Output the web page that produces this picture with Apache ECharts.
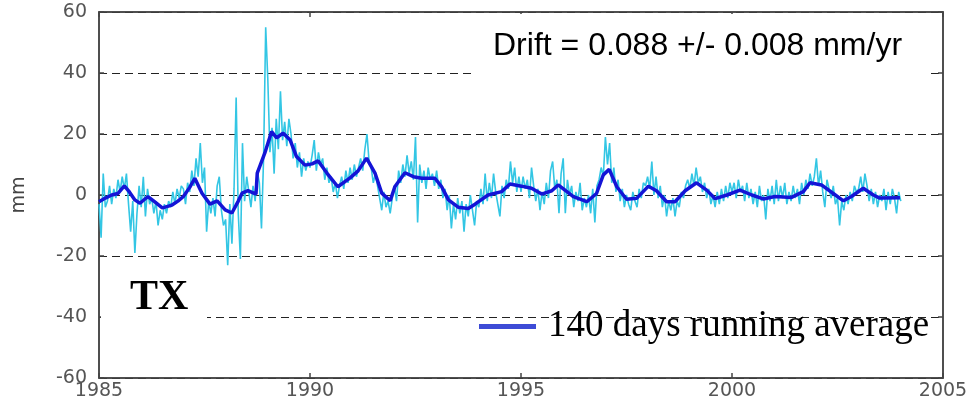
<!DOCTYPE html>
<html>
<head>
<meta charset="utf-8">
<script src="https://cdn.jsdelivr.net/npm/echarts@6/dist/echarts.min.js"></script>
<style>
  html, body { margin: 0; padding: 0; background: #fff; }
  #chart { width: 977px; height: 401px; }
</style>
</head>
<body>
<div id="chart"></div>
<script>
// raw series, one value every 0.05 yr from 1985.0
const rawStart = 1985
const rawStep = 0.05
const rawValues = [
  // 1985
  -3, -14, 7, -4, -2, 3, -3, 2, -1, 5, 1, 6, 2, 7, -3, -12, -2, -19, -6, 3,
  // 1986
  -4, 6, -7, 2, -3, -1, -6, -2, -10, -5, -8, -3, -6, -2, -4, 1, -3, 2, -1, 3,
  // 1987
  2, -3, 4, 1, 8, 3, 12, 6, 17, 4, 9, -12, -2, -6, -1, -7, 3, 6, -5, -10,
  // 1988
  -8, -23, -3, -16, 2, 32, -6, -21, 17, -2, 6, 1, -4, 3, -2, 8, 4, -11, 12, 55,
  // 1989
  38, 14, 22, 7, 25, 15, 34, 18, 24, 16, 25, 20, 12, 17, 9, 14, 6, 12, 8, 11,
  // 1990
  9, 13, 18, 8, 14, 10, 12, 5, 9, 4, 6, 1, 4, -1, 3, 6, 2, 8, 4, 9,
  // 1991
  5, 10, 6, 9, 12, 8, 15, 20, 11, 9, 4, 7, 3, -1, -5, 1, -4, -2, -6, -1,
  // 1992
  3, -2, 8, 4, 10, 6, 13, 7, 11, 5, 19, -9, 10, 4, 8, 2, 9, 5, 7, 3,
  // 1993
  8, 2, 5, -1, 2, -5, 0, -11, -3, -8, -1, -6, -2, -12, -3, -7, 0, -5, -10, -2,
  // 1994
  -4, 2, -3, 7, -2, 4, -1, 7, 1, -3, -7, 3, -1, 5, 2, 11, 4, 9, 1, 6,
  // 1995
  1, 6, 2, 5, -1, 9, 3, -2, 2, -5, 1, -3, 4, -1, 8, 11, 2, 5, -6, 7,
  // 1996
  12, -6, 5, 0, 3, -4, 1, -2, 4, -5, -1, -4, 0, -6, 2, -9, 3, 5, 9, 6,
  // 1997
  19, 10, 17, 4, 9, 1, 5, -2, 2, -4, 0, -3, -5, 1, -2, -4, 2, -1, 4, 3,
  // 1998
  6, 2, 11, 0, 6, -1, 3, -4, 0, -7, -2, -5, -1, -7, -2, -4, 1, -1, 3, 5,
  // 1999
  2, 7, 3, 9, 4, 6, 1, 4, -1, 2, -3, 0, -4, 1, -3, 2, -2, 3, -1, 4,
  // 2000
  1, 4, -1, 5, 1, 3, -2, 4, -1, 2, -3, 1, -4, 3, -2, 0, -8, 2, -2, 3,
  // 2001
  -3, 5, -2, 3, -1, 4, -3, 1, -2, 3, -1, 2, -3, 4, 0, 5, 2, 7, 3, 6,
  // 2002
  12, 3, 8, 1, -4, 5, 2, -1, 3, -3, -1, -10, -2, -5, 0, -3, 1, -2, 3, 1,
  // 2003
  2, 6, 1, 7, 3, -2, 2, -3, 1, -4, 0, -2, 2, -5, 1, -3, 2, -1, -6, 1,
  // 2004
  -2
]

// 140 days running average
const avgYears = [
  1985.0, 1985.15, 1985.3, 1985.45, 1985.6, 1985.72, 1985.85, 1985.97,
  1986.16, 1986.3, 1986.5, 1986.73, 1986.87, 1987.0, 1987.15, 1987.27,
  1987.44, 1987.63, 1987.8, 1987.99, 1988.15, 1988.3, 1988.39, 1988.53,
  1988.72, 1988.75, 1988.93, 1989.09, 1989.21, 1989.36, 1989.53, 1989.68,
  1989.88, 1990.05, 1990.19, 1990.4, 1990.66, 1990.95, 1991.14, 1991.34,
  1991.54, 1991.7, 1991.9, 1992.01, 1992.25, 1992.45, 1992.65, 1992.96,
  1993.12, 1993.28, 1993.51, 1993.75, 1993.91, 1994.22, 1994.54, 1994.74,
  1995.01, 1995.25, 1995.49, 1995.73, 1995.88, 1996.05, 1996.24, 1996.56,
  1996.79, 1996.95, 1997.09, 1997.27, 1997.5, 1997.74, 1998.02, 1998.21,
  1998.45, 1998.65, 1998.89, 1999.16, 1999.4, 1999.6, 1999.88, 2000.19,
  2000.47, 2000.74, 2001.02, 2001.41, 2001.69, 2001.85, 2002.12, 2002.4,
  2002.64, 2002.83, 2003.11, 2003.35, 2003.5, 2003.98
]
const avgValues = [
  -2.2, -1, 0, 0.5, 3, 1, -1.6, -2.7,
  -0.5, -2, -4.2, -3.3, -2, -0.5, 2.5, 5.5,
  0.6, -3, -1.9, -4.9, -5.9, -2, 0.6, 1.4,
  0.3, 7.2, 13.8, 20.8, 18.7, 20.3, 18, 12.6,
  9.8, 10.2, 11.2, 7.2, 2.7, 5.6, 7.9, 12.1,
  7.2, 0.6, -1.9, 2.7, 7.3, 6, 5.5, 5.5,
  2.7, -1.6, -4, -4.4, -3, 0, 1.1, 3.6,
  2.9, 2.2, 0.3, 1.4, 3.3, 1.5, -0.5, -2.2,
  0.5, 6.6, 8.4, 2.7, -1.4, -1.1, 2.9, 1.4,
  -2.2, -2.2, 1.4, 4.0, 1.6, -1.2, 0, 1.6,
  0, -1.3, -0.5, -0.8, 1.1, 4.0, 3.3, 0.5,
  -1.9, -0.5, 2.2, 0, -1, -0.9
]

const yearTicks = [1985, 1990, 1995, 2000, 2005]
const mmTicks = [-60, -40, -20, 0, 20, 40, 60]

const rawData = rawValues.map((v, i) => [rawStart + i * rawStep, v])
const avgData = avgYears.map((y, i) => [y, avgValues[i]])

const frame = { color: '#444', width: 1.5 }
const tickFont = { color: '#555', fontSize: 19, fontFamily: 'DejaVu Sans' }

const option = {
  animation: false,
  backgroundColor: '#fff',
  grid: { left: 99, right: 34, top: 12, bottom: 23, show: true, borderColor: '#444', borderWidth: 1.5 },
  xAxis: [
    {
      type: 'value',
      min: yearTicks[0],
      max: yearTicks[yearTicks.length - 1],
      interval: 5,
      axisLine: { show: true, onZero: false, lineStyle: frame },
      axisTick: { show: true, inside: true, length: 5, lineStyle: frame },
      axisLabel: Object.assign({ margin: 4, formatter: v => String(v) }, tickFont),
      splitLine: { show: false }
    },
    {
      type: 'value',
      position: 'top',
      min: yearTicks[0],
      max: yearTicks[yearTicks.length - 1],
      interval: 5,
      axisLine: { show: true, onZero: false, lineStyle: frame },
      axisTick: { show: true, inside: true, length: 5, lineStyle: frame },
      axisLabel: { show: false },
      splitLine: { show: false }
    }
  ],
  yAxis: [
    {
      type: 'value',
      min: mmTicks[0],
      max: mmTicks[mmTicks.length - 1],
      interval: 20,
      name: 'mm',
      nameLocation: 'middle',
      nameGap: 70,
      nameTextStyle: { color: '#444', fontSize: 19, fontFamily: 'DejaVu Sans' },
      axisLine: { show: true, onZero: false, lineStyle: frame },
      axisTick: { show: true, inside: true, length: 5, lineStyle: frame },
      axisLabel: Object.assign({ margin: 12 }, tickFont),
      splitLine: { show: true, lineStyle: { color: '#222', width: 1, type: [8, 5] } }
    },
    {
      type: 'value',
      position: 'right',
      min: mmTicks[0],
      max: mmTicks[mmTicks.length - 1],
      interval: 20,
      axisLine: { show: true, onZero: false, lineStyle: frame },
      axisTick: { show: true, inside: true, length: 5, lineStyle: frame },
      axisLabel: { show: false },
      splitLine: { show: false }
    }
  ],
  legend: {
    left: 479,
    top: 308,
    padding: 0,
    icon: 'rect',
    itemWidth: 57,
    itemHeight: 5,
    selectedMode: false,
    data: [{ name: '140 days running average', itemStyle: { color: '#3d4bd6' } }],
    textStyle: { color: '#000', fontSize: 37, fontFamily: 'Liberation Serif', padding: [0, 0, 0, 7] }
  },
  graphic: [
    { type: 'rect', z: 50, shape: { x: 473, y: 14, width: 454, height: 62 }, style: { fill: '#fff' } },
    {
      type: 'text', z: 51, x: 493, y: 46,
      style: { text: 'Drift = 0.088 +/- 0.008 mm/yr', font: '32px "Liberation Sans"', fill: '#000', verticalAlign: 'middle' }
    },
    { type: 'rect', z: 50, shape: { x: 101, y: 262, width: 106, height: 68 }, style: { fill: '#fff' } },
    {
      type: 'text', z: 51, x: 130, y: 298,
      style: { text: 'TX', font: 'bold 42px "Liberation Serif"', fill: '#000', verticalAlign: 'middle' }
    }
  ],
  series: [
    {
      name: 'raw',
      type: 'line',
      data: rawData,
      showSymbol: false,
      z: 2,
      lineStyle: { color: '#33c6e4', width: 1.6 }
    },
    {
      name: '140 days running average',
      type: 'line',
      data: avgData,
      showSymbol: false,
      z: 3,
      lineStyle: { color: '#1414d6', width: 3.5 },
      itemStyle: { color: '#1414d6' }
    }
  ]
}

const chart = echarts.init(document.getElementById('chart'))
chart.setOption(option)
window.addEventListener('resize', () => chart.resize())
</script>
</body>
</html>
